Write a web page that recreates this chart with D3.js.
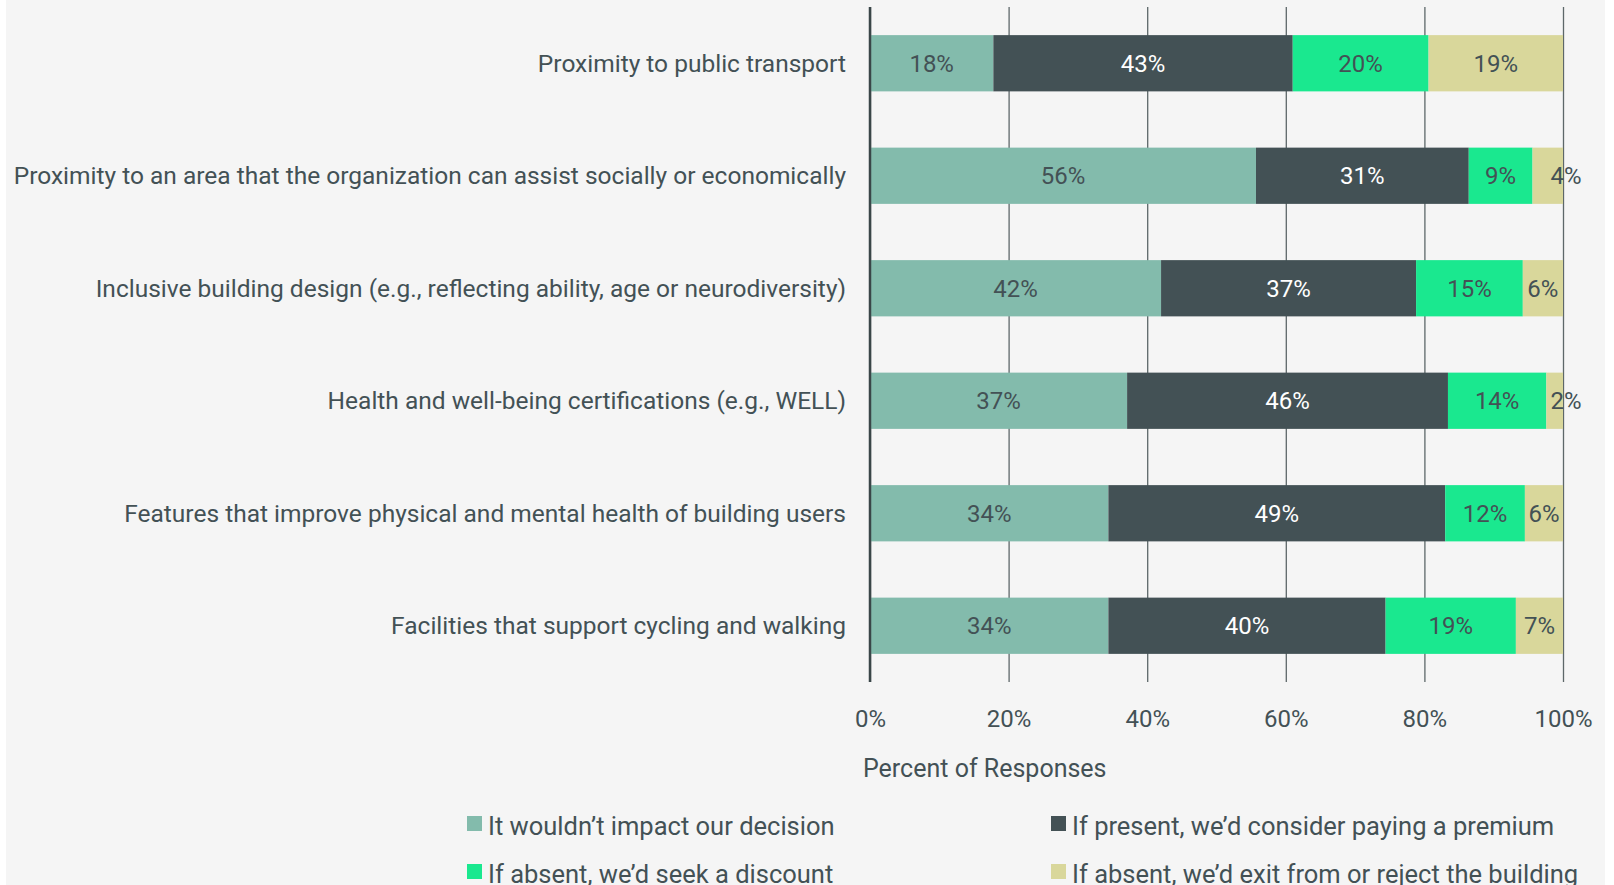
<!DOCTYPE html>
<html lang="en">
<head>
    <meta charset="UTF-8">
    <title>Percent of Responses</title>
    <script src="https://cdnjs.cloudflare.com/ajax/libs/d3/7.8.5/d3.min.js"></script>
    <style>
        * { margin: 0; padding: 0; box-sizing: border-box; }
        body { background: #ffffff; font-family: Roboto, 'Noto Sans', sans-serif; }
        svg text { font-family: Roboto, 'Noto Sans', sans-serif; }
    </style>
</head>
<body>
    <div id="chart"></div>
    <script>
        const categories = [
            'Proximity to public transport',
            'Proximity to an area that the organization can assist socially or economically',
            'Inclusive building design (e.g., reflecting ability, age or neurodiversity)',
            'Health and well-being certifications (e.g., WELL)',
            'Features that improve physical and mental health of building users',
            'Facilities that support cycling and walking'
        ];
        const seriesNames = [
            'It wouldn\u2019t impact our decision',
            'If present, we\u2019d consider paying a premium',
            'If absent, we\u2019d seek a discount',
            'If absent, we\u2019d exit from or reject the building'
        ];
        const noImpact  = [17.8, 55.7, 42.0, 37.1, 34.4, 34.4];
        const premium   = [43.2, 30.7, 36.8, 46.3, 48.6, 40.0];
        const discount  = [19.6,  9.2, 15.4, 14.2, 11.5, 18.8];
        const reject    = [19.4,  4.4,  5.8,  2.4,  5.5,  6.8];
        const xTicks = [0, 20, 40, 60, 80, 100];
        const colors = ['#83bbac', '#435155', '#1ae88f', '#d9d79b'];
        const labelColors = ['#435155', '#ffffff', '#435155', '#435155'];

        const width = 1614, height = 885;
        const textColor = '#435155';

        const svg = d3.select('#chart').append('svg')
            .attr('width', width)
            .attr('height', height);

        svg.append('rect')
            .attr('x', 6).attr('y', 0)
            .attr('width', 1599).attr('height', height)
            .attr('fill', '#f5f5f5');

        const x = d3.scaleLinear().domain([0, 100]).range([870, 1563]);
        const y = d3.scaleBand().domain(categories).range([7, 682])
            .paddingInner(0.5).paddingOuter(0.25);

        // grid + tick labels
        const axis = svg.append('g')
            .attr('transform', 'translate(0,682)')
            .call(d3.axisBottom(x)
                .tickValues(xTicks)
                .tickSize(-(682 - 7))
                .tickPadding(28)
                .tickFormat(d => d + '%'));
        axis.select('.domain').remove();
        axis.selectAll('.tick line')
            .attr('stroke', '#5d6769')
            .attr('stroke-width', 1.3);
        axis.selectAll('.tick text')
            .attr('fill', textColor)
            .style('font-size', '24px');

        // stacked bars
        const series = [noImpact, premium, discount, reject];
        const rows = categories.map((c, i) => {
            let acc = 0;
            return series.map((s, k) => {
                const seg = { cat: c, k: k, v: s[i], x0: acc, x1: acc + s[i] };
                acc += s[i];
                return seg;
            });
        });

        const rowG = svg.append('g').selectAll('g')
            .data(rows)
            .enter().append('g');

        rowG.selectAll('rect')
            .data(d => d)
            .enter().append('rect')
            .attr('x', d => x(d.x0))
            .attr('y', d => y(d.cat))
            .attr('width', d => x(d.x1) - x(d.x0))
            .attr('height', y.bandwidth())
            .attr('fill', d => colors[d.k]);

        // zero axis line
        svg.append('line')
            .attr('x1', x(0)).attr('x2', x(0))
            .attr('y1', 7).attr('y2', 682)
            .attr('stroke', '#3a4648')
            .attr('stroke-width', 2.5);

        rowG.selectAll('text')
            .data(d => d)
            .enter().append('text')
            .attr('x', d => {
                const w = x(d.x1) - x(d.x0);
                return w < 35 ? x(d.x1) + 3 : (x(d.x0) + x(d.x1)) / 2;
            })
            .attr('y', d => y(d.cat) + y.bandwidth() / 2 + 8.5)
            .attr('text-anchor', 'middle')
            .attr('fill', d => labelColors[d.k])
            .style('font-size', '24px')
            .text(d => Math.round(d.v) + '%');

        // category labels
        svg.append('g').selectAll('text')
            .data(categories)
            .enter().append('text')
            .attr('x', 846)
            .attr('y', d => y(d) + y.bandwidth() / 2 + 8.5)
            .attr('text-anchor', 'end')
            .attr('fill', textColor)
            .style('font-size', '24.5px')
            .text(d => d);

        // axis title
        svg.append('text')
            .attr('x', 863)
            .attr('y', 777)
            .attr('fill', textColor)
            .style('font-size', '25px')
            .text('Percent of Responses');

        // legend
        const legend = svg.append('g').selectAll('g')
            .data(seriesNames)
            .enter().append('g')
            .attr('transform', (d, i) => `translate(${i % 2 === 0 ? 467 : 1051},${i < 2 ? 816 : 864})`);

        legend.append('rect')
            .attr('width', 15).attr('height', 15)
            .attr('fill', (d, i) => colors[i]);

        legend.append('text')
            .attr('x', 21)
            .attr('y', 19)
            .attr('fill', textColor)
            .style('font-size', '25.5px')
            .text(d => d);
    </script>
</body>
</html>
